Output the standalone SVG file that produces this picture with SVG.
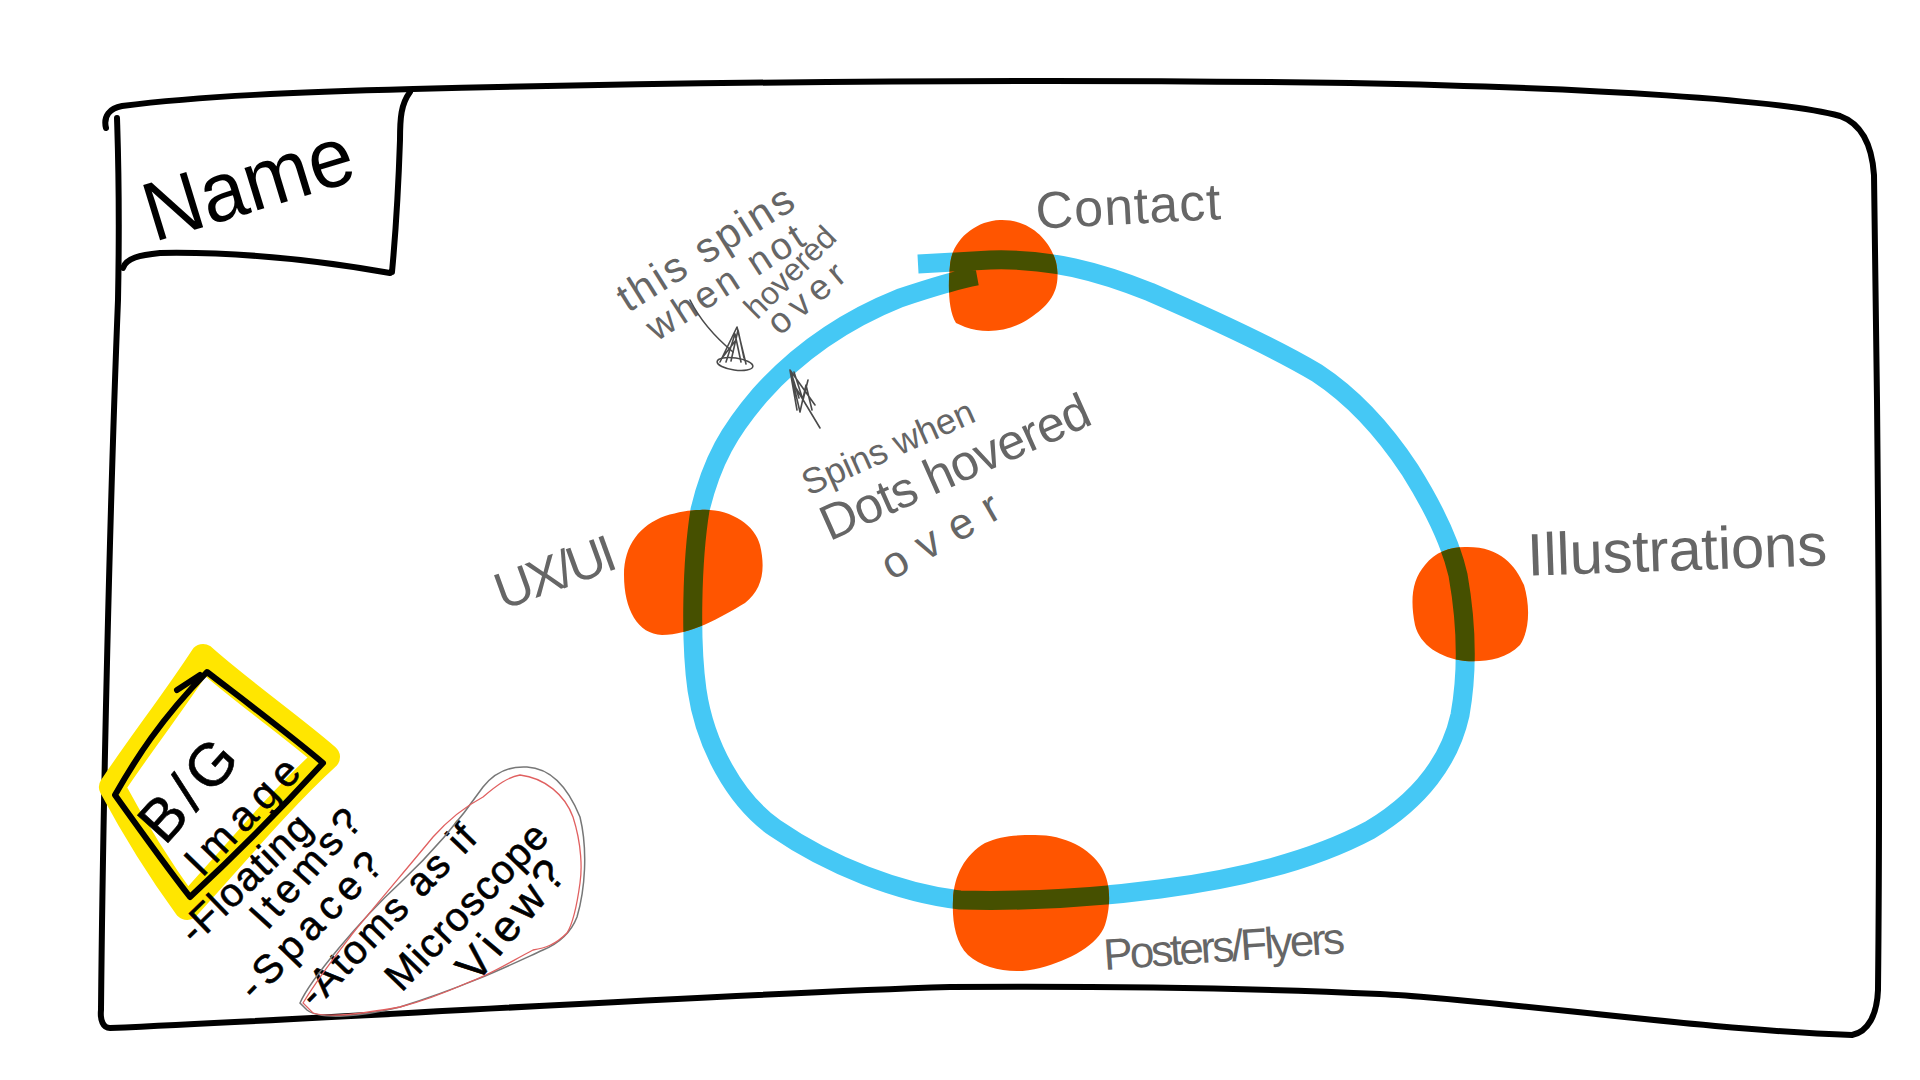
<svg xmlns="http://www.w3.org/2000/svg" width="1920" height="1080" viewBox="0 0 1920 1080">
<style>
.ink{fill:none;stroke:#000;stroke-width:6;stroke-linecap:round;stroke-linejoin:round}
.pencil{font-family:"Liberation Sans",Arial,sans-serif;fill:#666;dominant-baseline:central;text-anchor:middle}
.marker{font-family:"Liberation Sans",Arial,sans-serif;fill:#000;stroke:#000;stroke-width:0.6;dominant-baseline:central;text-anchor:middle}
.dot{fill:#FF5500}
.ring{fill:none;stroke:#45C8F5;stroke-width:19;stroke-linecap:butt;stroke-linejoin:round}
.ringdark{stroke:#465000}
.scribble{fill:none;stroke:#4a4a4a;stroke-width:1.6;stroke-linecap:round;stroke-linejoin:round}
</style>
<defs>
<path id="ringPath" d="M 918,264 L 990,260 C 1050,258 1100,272 1150,292 C 1210,318 1270,345 1317,373 C 1355,398 1385,432 1410,470 C 1432,505 1450,540 1458,575 C 1466,620 1468,670 1460,715 C 1450,760 1420,800 1370,830 C 1310,862 1230,880 1160,889 C 1100,897 1040,902 960,900 C 900,893 830,866 775,828 C 735,800 705,745 697,690 C 690,640 692,560 700,510 C 712,460 730,430 760,395 C 800,350 850,318 900,298 C 930,288 955,280 977,276"/>
<path id="dotContactP" d="M 1000,220 C 1030,219 1050,240 1056,262 C 1062,290 1050,305 1030,318 C 1010,332 985,334 965,327 L 956,323 C 948,310 948,285 950,265 C 952,240 975,221 1000,220 Z"/>
<path id="dotUxP" d="M 700,510 C 730,508 755,525 760,545 C 766,570 762,590 745,603 C 720,618 690,635 662,635 C 638,634 624,610 624,575 C 624,545 640,525 665,516 C 678,512 690,510 700,510 Z"/>
<path id="dotIllP" d="M 1465,547 C 1500,546 1515,565 1524,585 C 1530,605 1530,630 1520,645 C 1505,660 1485,662 1465,661 C 1440,658 1420,645 1415,625 C 1410,600 1412,580 1425,565 C 1435,552 1450,547 1465,547 Z"/>
<path id="dotPostP" d="M 1035,835 C 1065,835 1090,848 1102,868 C 1112,885 1110,910 1105,925 C 1098,945 1070,960 1040,968 C 1015,975 985,970 968,955 C 955,942 952,920 953,900 C 954,875 965,855 985,843 C 1000,836 1015,835 1035,835 Z"/>
<clipPath id="dotsClip">
<use href="#dotContactP"/><use href="#dotUxP"/><use href="#dotIllP"/><use href="#dotPostP"/>
</clipPath>
</defs>
<rect width="1920" height="1080" fill="#fff"/>

<g id="frame">
<path class="ink" d="M 106,128 C 103,116 110,108 122,106 C 200,96 300,92 413,89 C 700,82 1000,78 1350,83 C 1600,88 1780,100 1840,116 C 1862,124 1872,145 1874,175 L 1877,400 C 1879,600 1880,800 1878,990 C 1877,1015 1868,1032 1852,1035 C 1700,1030 1500,1000 1380,994 C 1250,988 1100,986 950,987 C 700,995 400,1015 110,1028 C 103,1028 100,1020 101,1010 C 103,800 110,500 118,300 C 120,200 118,150 117,118"/>
</g>

<g id="name-box">
<path class="ink" d="M 410,92 C 401,104 400,118 400,140 C 398,200 395,240 392,272 M 123,268 C 126,258 140,255 160,253 C 220,252 300,257 390,273"/>
<text class="marker" x="0" y="0" font-size="84" textLength="215" lengthAdjust="spacingAndGlyphs" style="stroke-width:0" transform="translate(248,183) rotate(-17)">Name</text>
</g>

<g id="ring">
<use href="#ringPath" class="ring"/>
</g>

<g id="dot-contact"><use href="#dotContactP" class="dot"/></g>
<g id="dot-uxui"><use href="#dotUxP" class="dot"/></g>
<g id="dot-illustrations"><use href="#dotIllP" class="dot"/></g>
<g id="dot-posters"><use href="#dotPostP" class="dot"/></g>

<g id="ring-overlap" clip-path="url(#dotsClip)">
<use href="#ringPath" class="ring ringdark"/>
</g>

<g id="label-contact"><text class="pencil" font-size="52" textLength="185" transform="translate(1128,206) rotate(-3)">Contact</text></g>
<g id="label-illustrations"><text class="pencil" font-size="60" textLength="300" transform="translate(1677,550) rotate(-2)">Illustrations</text></g>
<g id="label-uxui"><text class="pencil" font-size="52" textLength="125" transform="translate(555,572) rotate(-20)">UX/UI</text></g>
<g id="label-posters"><text class="pencil" font-size="44" textLength="242" transform="translate(1224,946) rotate(-4)">Posters/Flyers</text></g>

<g id="note-spins-not-hovered">
<text class="pencil" font-size="42" textLength="200" transform="translate(705,248) rotate(-32)">this spins</text>
<text class="pencil" font-size="38" textLength="180" transform="translate(725,282) rotate(-33)">when not</text>
<text class="pencil" font-size="32" textLength="115" transform="translate(790,272) rotate(-45)">hovered</text>
<text class="pencil" font-size="36" textLength="90" transform="translate(806,298) rotate(-40)">over</text>
</g>

<g id="note-spins-dots-hovered">
<text class="pencil" font-size="36" textLength="185" transform="translate(888,447) rotate(-24)">Spins when</text>
<text class="pencil" font-size="50" textLength="290" transform="translate(955,467) rotate(-24)">Dots hovered</text>
<text class="pencil" font-size="44" textLength="130" transform="translate(940,535) rotate(-30)">over</text>
</g>

<g id="connectors">
<path class="scribble" d="M 690,300 C 700,320 715,337 733,352"/>
<path class="scribble" d="M 720,362 L 737,327 L 746,364 M 726,362 L 735,334 L 741,362 M 731,361 L 738,330 L 744,358 M 722,358 L 736,340"/>
<ellipse class="scribble" cx="735" cy="364" rx="18" ry="6" transform="rotate(8 735 364)"/>
<path class="scribble" d="M 790,370 L 797,410 M 790,370 L 815,405 M 792,378 L 800,412 L 806,385 L 812,410 M 794,372 L 803,400 L 808,380 M 796,388 L 820,428 M 791,372 L 799,398"/>
</g>

<g id="bg-image-note">
<path d="M 203,657 C 240,690 290,725 327,757 C 280,800 230,860 187,907 C 160,870 135,830 112,787 C 140,745 175,700 203,657 Z" fill="none" stroke="#FFE600" stroke-width="26" stroke-linejoin="round"/>
<path class="ink" d="M 115,795 C 135,760 160,720 207,672 C 250,705 290,735 323,763 C 280,810 230,860 190,897 C 165,865 140,830 115,795 Z M 177,690 L 200,675"/>
<text class="marker" font-size="60" textLength="115" transform="translate(188,790) rotate(-48)">B/G</text>
<text class="marker" font-size="42" textLength="145" transform="translate(242,816) rotate(-46)">Image</text>
<text class="marker" font-size="40" textLength="166" transform="translate(245,878) rotate(-44)">-Floating</text>
<text class="marker" font-size="40" textLength="145" transform="translate(305,868) rotate(-48)">Items?</text>
<text class="marker" font-size="40" textLength="187" transform="translate(310,925) rotate(-46)">-Space?</text>
<text class="marker" font-size="40" textLength="236" transform="translate(387,915) rotate(-46)">-Atoms as if</text>
<text class="marker" font-size="40" textLength="215" transform="translate(466,906) rotate(-46)">Microscope</text>
<text class="marker" font-size="44" textLength="142" transform="translate(510,920) rotate(-50)">View?</text>
<path d="M 300,1003 C 310,980 360,920 400,883 C 430,855 460,820 483,787 C 495,772 510,766 527,767 C 545,768 565,780 580,817 C 588,850 585,890 577,917 C 570,935 555,945 543,950 C 510,965 470,985 400,1007 C 360,1017 320,1020 307,1010 Z" fill="none" stroke="#777" stroke-width="1.5"/>
<path d="M 303,1003 C 320,975 340,950 353,933 C 380,900 410,865 433,837 C 450,818 468,805 483,797 C 497,785 508,777 520,775 C 545,778 565,795 573,817 C 582,845 582,870 580,883 C 577,905 572,925 567,933 C 555,945 545,948 533,950 C 510,962 490,975 467,983 C 440,995 420,1002 400,1007 C 360,1014 330,1018 313,1013 Z" fill="none" stroke="#e06060" stroke-width="1.3"/>
</g>
</svg>
